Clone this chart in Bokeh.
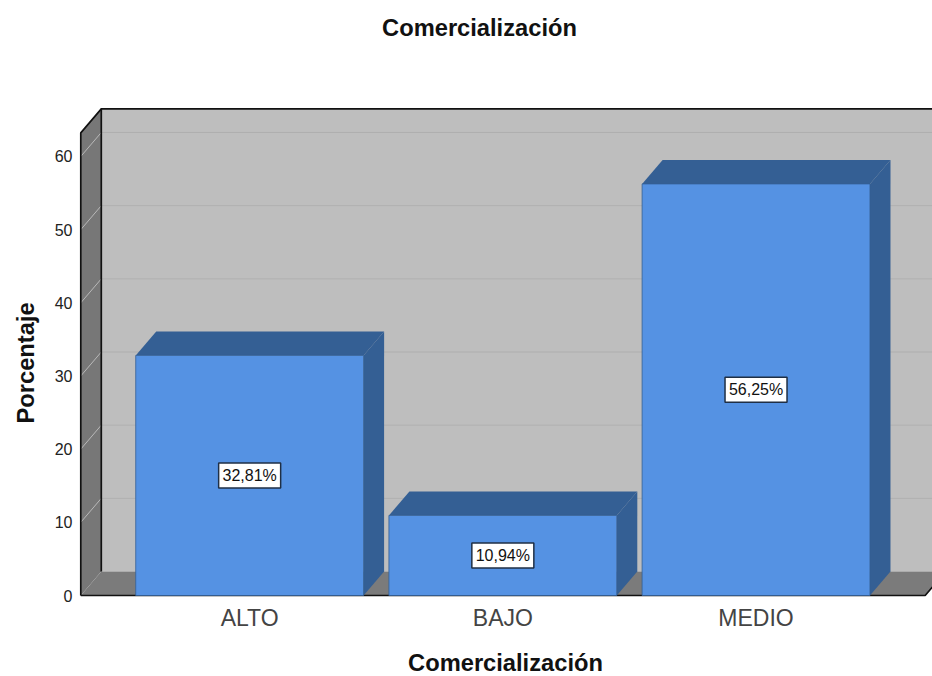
from bokeh.core.properties import value
from bokeh.embed import file_html
from bokeh.models import ColumnDataSource, FixedTicker, Label, Range1d, Title
from bokeh.plotting import figure
from bokeh.resources import INLINE

# Chart content
TITLE = "Comercialización"
X_LABEL = "Comercialización"
Y_LABEL = "Porcentaje"
categories = ["ALTO", "BAJO", "MEDIO"]
percentages = [32.81, 10.94, 56.25]
value_labels = ["32,81%", "10,94%", "56,25%"]
y_ticks = [0, 10, 20, 30, 40, 50, 60]

# Pseudo-3D projection, in data units
BAR_WIDTH = 0.90
DEPTH_X = 0.081
DEPTH_Y = 3.28
WALL_LEFT = -0.667
FLOOR_RIGHT = 2.668
Y_TOP = 60 + 3.23

# Palette
FRONT = "#5592E3"
SHADE = "#345F94"
BACK_WALL = "#BEBEBE"
SIDE_WALL = "#777777"
FLOOR = "#7B7B7B"
GRID_BACK = "#B0B0B0"
GRID_SIDE = "#B9B9B9"
INK = "#111111"
FONT = "Liberation Sans"
HEADING_SIZE = "23.7px"

# The frame reaches the top of the page so the heading can sit inside it
p = figure(
    width=932,
    height=676,
    frame_width=854,
    frame_height=597,
    output_backend="svg",
    toolbar_location=None,
    x_range=Range1d(-0.676, 2.697),
    y_range=Range1d(-0.273, 81.32),
    min_border_left=78,
    min_border_right=0,
    min_border_top=0,
    min_border_bottom=79,
    background_fill_color="white",
    border_fill_color="white",
    outline_line_color=None,
)
p.grid.visible = False

# Back wall, left wall and floor of the box
far_right = FLOOR_RIGHT + DEPTH_X
p.patch(
    [WALL_LEFT + DEPTH_X, far_right, far_right, WALL_LEFT + DEPTH_X],
    [DEPTH_Y, DEPTH_Y, Y_TOP + DEPTH_Y, Y_TOP + DEPTH_Y],
    fill_color=BACK_WALL, line_color=None,
)
p.patch(
    [WALL_LEFT, WALL_LEFT + DEPTH_X, WALL_LEFT + DEPTH_X, WALL_LEFT],
    [0, DEPTH_Y, Y_TOP + DEPTH_Y, Y_TOP],
    fill_color=SIDE_WALL, line_color=None,
)
p.patch(
    [WALL_LEFT, FLOOR_RIGHT, far_right, WALL_LEFT + DEPTH_X],
    [0, 0, DEPTH_Y, DEPTH_Y],
    fill_color=FLOOR, line_color=None,
)

# Gridlines run along the back wall and fold down the left wall
grid_values = y_ticks[1:]
p.multi_line(
    [[WALL_LEFT + DEPTH_X, far_right] for _ in grid_values],
    [[v + DEPTH_Y, v + DEPTH_Y] for v in grid_values],
    line_color=GRID_BACK, line_width=1,
)
p.multi_line(
    [[WALL_LEFT, WALL_LEFT + DEPTH_X] for _ in grid_values],
    [[v, v + DEPTH_Y] for v in grid_values],
    line_color=GRID_SIDE, line_width=1,
)

# Box outline
p.multi_line(
    [
        [WALL_LEFT, WALL_LEFT, WALL_LEFT + DEPTH_X, far_right],
        [WALL_LEFT + DEPTH_X, WALL_LEFT + DEPTH_X],
        [WALL_LEFT, FLOOR_RIGHT, far_right],
    ],
    [
        [0, Y_TOP, Y_TOP + DEPTH_Y, Y_TOP + DEPTH_Y],
        [DEPTH_Y, Y_TOP + DEPTH_Y],
        [0, 0, DEPTH_Y],
    ],
    line_color=INK, line_width=1.7,
)

# Each bar is a front face plus a top and a right-hand side
positions = list(range(len(categories)))
half = BAR_WIDTH / 2
for x, v in zip(positions, percentages):
    left, right = x - half, x + half
    p.patch(
        [left, left + DEPTH_X, right + DEPTH_X, right],
        [v, v + DEPTH_Y, v + DEPTH_Y, v],
        fill_color=SHADE, line_color=None,
    )
    p.patch(
        [right, right + DEPTH_X, right + DEPTH_X, right],
        [0, DEPTH_Y, v + DEPTH_Y, v],
        fill_color=SHADE, line_color=None,
    )
p.vbar(
    x=positions, top=percentages, bottom=0, width=BAR_WIDTH,
    fill_color=FRONT, line_color=SHADE, line_width=0.8,
)

# Value labels sit at half the height of each bar, on a white box
labels = ColumnDataSource(dict(
    x=positions,
    y=[v / 2 for v in percentages],
    text=value_labels,
))
p.rect(
    x="x", y="y", width=62, height=25, width_units="screen", height_units="screen",
    source=labels, fill_color="white", line_color="#1F2F45", line_width=1.5,
)
p.text(
    x="x", y="y", text="text", source=labels,
    text_font=value(FONT), text_font_size=value("16px"), text_color="#111111",
    text_align="center", text_baseline="middle",
)

# Axes
p.xaxis.ticker = FixedTicker(ticks=positions)
p.xaxis.major_label_overrides = dict(zip(positions, categories))
p.xaxis.major_label_text_font = FONT
p.xaxis.major_label_text_font_size = "23px"
p.xaxis.major_label_text_color = "#444444"
p.xaxis.major_label_standoff = 1
p.xaxis.axis_line_color = None
p.xaxis.major_tick_line_color = None
p.xaxis.minor_tick_line_color = None
p.xaxis.axis_label = X_LABEL
p.xaxis.axis_label_standoff = 16
p.xaxis.axis_label_text_font = FONT
p.xaxis.axis_label_text_font_style = "bold"
p.xaxis.axis_label_text_font_size = HEADING_SIZE
p.xaxis.axis_label_text_color = "#111111"

p.yaxis.ticker = FixedTicker(ticks=y_ticks)
p.yaxis.major_label_text_font = FONT
p.yaxis.major_label_text_font_size = "16px"
p.yaxis.major_label_text_color = "#222222"
p.yaxis.major_label_standoff = 0
p.yaxis.axis_line_color = None
p.yaxis.major_tick_line_color = None
p.yaxis.minor_tick_line_color = None
p.yaxis.major_label_orientation = "horizontal"

# Y heading: a side title, so it can run alongside the axis off the frame's centre
p.add_layout(Title(
    text=Y_LABEL, align="left", offset=174, vertical_align="middle", standoff=23,
    text_font=FONT, text_font_style="bold", text_font_size=HEADING_SIZE,
    text_color="#111111",
), "left")

# Chart heading, in pixels from the frame's lower-left corner
p.add_layout(Label(
    x=401, y=570, x_units="screen", y_units="screen", text=TITLE,
    text_font=FONT, text_font_style="bold", text_font_size=HEADING_SIZE,
    text_color="#111111", text_align="center", text_baseline="middle",
))

open("out.html", "w").write(file_html(p, INLINE))
